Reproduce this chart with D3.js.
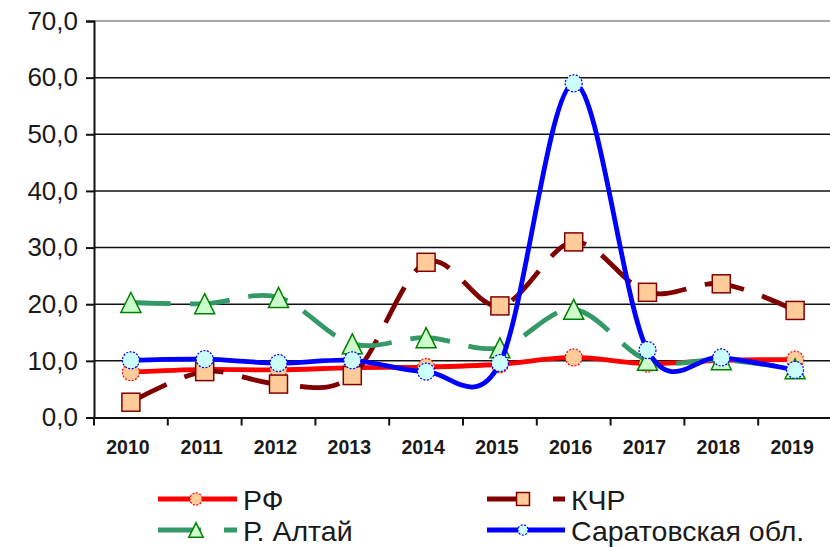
<!DOCTYPE html>
<html>
<head>
<meta charset="utf-8">
<script src="https://cdn.jsdelivr.net/npm/d3@7"></script>
<style>
  html, body { margin: 0; padding: 0; background: #fff; }
  svg { display: block; }
</style>
</head>
<body>
<svg id="chart" width="830" height="547"></svg>
<script>
const years = ["2010","2011","2012","2013","2014","2015","2016","2017","2018","2019"];
const rf       = [8.0, 8.5, 8.4, 8.8, 8.9, 9.4, 10.6, 9.5, 10.1, 10.2];
const kchr     = [2.7, 8.1, 5.9, 7.4, 27.4, 19.7, 31.0, 22.1, 23.6, 18.9];
const altai    = [20.3, 20.1, 21.2, 13.0, 14.1, 12.3, 19.1, 10.1, 10.2, 8.6];
const saratov  = [10.1, 10.3, 9.6, 10.1, 8.1, 9.6, 59.0, 11.9, 10.6, 8.4];
const yTicks   = [0, 10, 20, 30, 40, 50, 60, 70];
const seriesNames = ["РФ", "КЧР", "Р. Алтай", "Саратовская обл."];

const svg = d3.select("#chart");
const x = d3.scaleBand().domain(years).range([94, 832]);
const y = d3.scaleLinear().domain([0, 70]).range([417.5, 21]);
const cx = d => x(d) + x.bandwidth() / 2;
const fmt = v => d3.format(".1f")(v).replace(".", ",");

// gridlines
svg.append("g").selectAll("line").data(yTicks.filter(t => t > 0)).join("line")
  .attr("x1", 94).attr("x2", 832)
  .attr("y1", d => y(d)).attr("y2", d => y(d))
  .attr("stroke", d => d === 70 ? "#a8a8a8" : "#111")
  .attr("stroke-width", d => d === 70 ? 2 : 1.5);

// y axis
const yAxis = svg.append("g").attr("transform", "translate(94,0)")
  .call(d3.axisLeft(y).tickValues(yTicks).tickFormat(fmt).tickSize(8).tickPadding(6));
yAxis.select(".domain").attr("stroke", "#111").attr("stroke-width", 2);
yAxis.selectAll(".tick line").attr("stroke", "#111").attr("stroke-width", 2);
yAxis.selectAll("text").attr("font-family", "Arial, 'Liberation Sans', sans-serif")
  .attr("font-size", 26).attr("fill", "#1a1a1a").attr("dx", "-2");

// x axis
const xAxis = svg.append("g").attr("transform", `translate(0,${y(0)})`)
  .call(d3.axisBottom(x).tickSize(0).tickPadding(0));
xAxis.select(".domain").attr("stroke", "#111").attr("stroke-width", 2);
xAxis.selectAll(".tick text").attr("font-family", "Arial, 'Liberation Sans', sans-serif")
  .attr("font-size", 19.5).attr("font-weight", "bold").attr("fill", "#1a1a1a")
  .attr("dy", null).attr("y", 36).attr("dx", "-3");
// boundary ticks
svg.append("g").selectAll("line").data(years).join("line")
  .attr("x1", d => x(d)).attr("x2", d => x(d))
  .attr("y1", y(0)).attr("y2", y(0) + 8)
  .attr("stroke", "#111").attr("stroke-width", 2);

const line = d3.line().x((d, i) => cx(years[i])).y(d => y(d)).curve(d3.curveCardinal.tension(0));

const series = [
  { name: seriesNames[0], data: rf, color: "#ff0000", dash: null, marker: "circleRF" },
  { name: seriesNames[1], data: kchr, color: "#800000", dash: "40,19", marker: "square" },
  { name: seriesNames[2], data: altai, color: "#339966", dash: "40,19", marker: "triangle" },
  { name: seriesNames[3], data: saratov, color: "#0000ff", dash: null, marker: "circleS" }
];

function drawMarker(g, type, px, py, s) {
  if (type === "circleRF") {
    g.append("circle").attr("cx", px).attr("cy", py).attr("r", 8.5 * s)
      .attr("fill", "#ffcc99").attr("stroke", "#ff0000").attr("stroke-width", 1.2).attr("stroke-dasharray", "2,1.5");
  } else if (type === "circleS") {
    g.append("circle").attr("cx", px).attr("cy", py).attr("r", 8.5 * s)
      .attr("fill", "#ccffff").attr("stroke", "#0000ff").attr("stroke-width", 1.2).attr("stroke-dasharray", "2,1.5");
  } else if (type === "square") {
    const h = 9 * s;
    g.append("rect").attr("x", px - h).attr("y", py - h).attr("width", 2 * h).attr("height", 2 * h)
      .attr("fill", "#ffcc99").attr("stroke", "#800000").attr("stroke-width", 1.5);
  } else if (type === "triangle") {
    const w = 10 * s, h = 10 * s;
    g.append("path").attr("d", `M${px},${py - h}L${px + w},${py + h}L${px - w},${py + h}Z`)
      .attr("fill", "#ccffcc").attr("stroke", "#008000").attr("stroke-width", 1.5);
  }
}

series.forEach(s => {
  const g = svg.append("g");
  g.append("path").attr("d", line(s.data)).attr("fill", "none")
    .attr("stroke", s.color).attr("stroke-width", 4.8)
    .attr("stroke-dasharray", s.dash);
  s.data.forEach((v, i) => drawMarker(g, s.marker, cx(years[i]), y(v), 1));
});

// legend
const legendPos = [
  { x1: 158, x2: 237, mx: 196, y: 499, tx: 243, ty: 510 },
  { x1: 487, x2: 565, mx: 523, y: 499, tx: 571, ty: 510 },
  { x1: 158, x2: 237, mx: 196, y: 530, tx: 243, ty: 541 },
  { x1: 487, x2: 565, mx: 523, y: 530, tx: 571, ty: 541 }
];
series.forEach((s, i) => {
  const p = legendPos[i];
  const g = svg.append("g");
  g.append("line").attr("x1", p.x1).attr("x2", p.x2).attr("y1", p.y).attr("y2", p.y)
    .attr("stroke", s.color).attr("stroke-width", 4.8)
    .attr("stroke-dasharray", s.dash ? "43,23" : null);
  drawMarker(g, s.marker, p.mx, p.y, s.marker === "circleS" ? 0.6 : 0.72);
  g.append("text").attr("x", p.tx).attr("y", p.ty).text(s.name)
    .attr("font-family", "Arial, 'Liberation Sans', sans-serif").attr("font-size", 28.5).attr("fill", "#1a1a1a");
});
</script>
</body>
</html>
